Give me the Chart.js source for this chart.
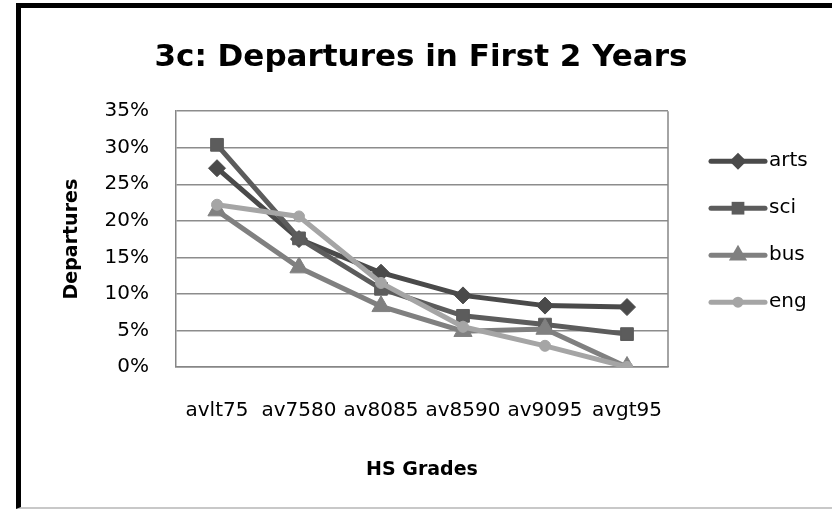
<!DOCTYPE html>
<html lang="en">
<head>
    <meta charset="UTF-8">
    <title>3c: Departures in First 2 Years</title>
    <script src="https://cdn.jsdelivr.net/npm/chart.js@4.4.0/dist/chart.umd.min.js"></script>
    <style>
      body { margin: 0; background: #fff; overflow: hidden; }
      .frame {
        position: absolute; left: 16px; top: 3px; width: 900px; height: 499px;
        border-left: 5px solid #000; border-top: 5px solid #000; border-bottom: 2px solid #c8c8c8;
      }
      #chart { position: absolute; left: 0; top: 0; }
    </style>
    <script>
      const grades = ['avlt75', 'av7580', 'av8085', 'av8590', 'av9095', 'avgt95']
      const arts = [27.2, 17.5, 12.9, 9.8, 8.4, 8.2]
      const sci = [30.4, 17.6, 10.7, 7.0, 5.8, 4.5]
      const bus = [21.4, 13.6, 8.3, 4.9, 5.2, 0]
      const eng = [22.2, 20.6, 11.5, 5.5, 2.9, 0]

      const font = 'DejaVu Sans'

      function marker(ctx, style, r, x, y) {
        ctx.beginPath()
        if (style === 'rectRot') {
          ctx.moveTo(x, y - r); ctx.lineTo(x + r, y); ctx.lineTo(x, y + r); ctx.lineTo(x - r, y)
        } else if (style === 'rect') {
          const s = r * Math.SQRT1_2
          ctx.rect(x - s, y - s, 2 * s, 2 * s)
        } else if (style === 'triangle') {
          ctx.moveTo(x, y - r); ctx.lineTo(x + r * 0.866, y + r / 2); ctx.lineTo(x - r * 0.866, y + r / 2)
        } else {
          ctx.arc(x, y, r, 0, Math.PI * 2)
        }
        ctx.closePath()
        ctx.fill()
      }

      // right border of the plot box + legend on the right
      const boxAndLegend = {
        id: 'boxAndLegend',
        beforeDatasetsDraw(chart) {
          const { ctx, chartArea: a } = chart
          ctx.save()
          ctx.strokeStyle = '#868686'
          ctx.lineWidth = 1.5
          ctx.beginPath()
          ctx.moveTo(a.right, a.top); ctx.lineTo(a.right, a.bottom)
          ctx.stroke()
          ctx.restore()
        },
        afterDraw(chart) {
          const { ctx, chartArea: a } = chart
          ctx.save()
          chart.data.datasets.forEach((ds, i) => {
            const y = a.top + 50 + i * 47
            const x0 = a.right + 43
            ctx.strokeStyle = ds.borderColor
            ctx.fillStyle = ds.borderColor
            ctx.lineWidth = 5
            ctx.lineCap = 'round'
            ctx.beginPath()
            ctx.moveTo(x0, y); ctx.lineTo(x0 + 54, y)
            ctx.stroke()
            marker(ctx, ds.pointStyle, ds.pointRadius, x0 + 27, y)
            ctx.fillStyle = '#000'
            ctx.font = '20px "' + font + '"'
            ctx.textBaseline = 'middle'
            ctx.textAlign = 'left'
            ctx.fillText(ds.label, x0 + 58, y)
          })
          ctx.restore()
        }
      }

      window.onload = function() {
        const ctx = document.getElementById('chart').getContext('2d')

        const series = [
          { label: 'arts', data: arts, color: '#4a4a4a', style: 'rectRot', r: 8.5 },
          { label: 'sci', data: sci, color: '#5c5c5c', style: 'rect', r: 9 },
          { label: 'bus', data: bus, color: '#808080', style: 'triangle', r: 10.5 },
          { label: 'eng', data: eng, color: '#a5a5a5', style: 'circle', r: 5.5 }
        ]

        const datasets = series.map((s, i) => ({
          label: s.label,
          data: s.data,
          borderColor: s.color,
          backgroundColor: s.color,
          pointBackgroundColor: s.color,
          pointBorderColor: s.color,
          pointBorderWidth: 1,
          pointStyle: s.style,
          pointRadius: s.r,
          borderWidth: 5,
          tension: 0,
          order: series.length - i
        }))

        new Chart(ctx, {
          type: 'line',
          data: { labels: grades, datasets: datasets },
          options: {
            responsive: false,
            animation: false,
            layout: { padding: { left: 10, right: 0, top: 0, bottom: 0 } },
            plugins: {
              legend: { display: false },
              tooltip: { enabled: false },
              title: {
                display: true,
                text: '3c: Departures in First 2 Years',
                color: '#000',
                font: { family: font, size: 31, weight: 'bold' },
                padding: { top: 39, bottom: 35 }
              }
            },
            scales: {
              x: {
                offset: true,
                grid: { display: false, drawTicks: false },
                border: { display: true, color: '#868686', width: 1.5 },
                ticks: { color: '#000', font: { family: font, size: 20 }, padding: 32, maxRotation: 0, autoSkip: false },
                title: {
                  display: true, text: 'HS Grades', color: '#000',
                  font: { family: font, size: 19, weight: 'bold' },
                  padding: { top: 0, bottom: 28 }
                },
                afterFit(scale) { scale.height = 142 }
              },
              y: {
                min: 0, max: 35,
                grid: { color: '#8c8c8c', lineWidth: 1.5, drawTicks: false },
                border: { display: true, color: '#868686', width: 1.5 },
                ticks: {
                  stepSize: 5, color: '#000', padding: 27,
                  font: { family: font, size: 20 },
                  callback: (v) => v + '%'
                },
                title: {
                  display: true, text: 'Departures', color: '#000',
                  font: { family: font, size: 19, weight: 'bold' },
                  padding: { top: 51, bottom: 0 }
                },
                afterFit(scale) { scale.width = 166 }
              },
              // empty axis that only holds the legend space on the right
              legendSpace: {
                type: 'linear',
                position: 'right',
                grid: { display: false, drawTicks: false },
                border: { display: false },
                ticks: { display: false },
                afterFit(scale) { scale.width = 164 }
              }
            }
          },
          plugins: [boxAndLegend]
        })
      }
    </script>
</head>
<body>
<div class="frame"></div>
<canvas id="chart" width="832" height="509"></canvas>
</body>
</html>
